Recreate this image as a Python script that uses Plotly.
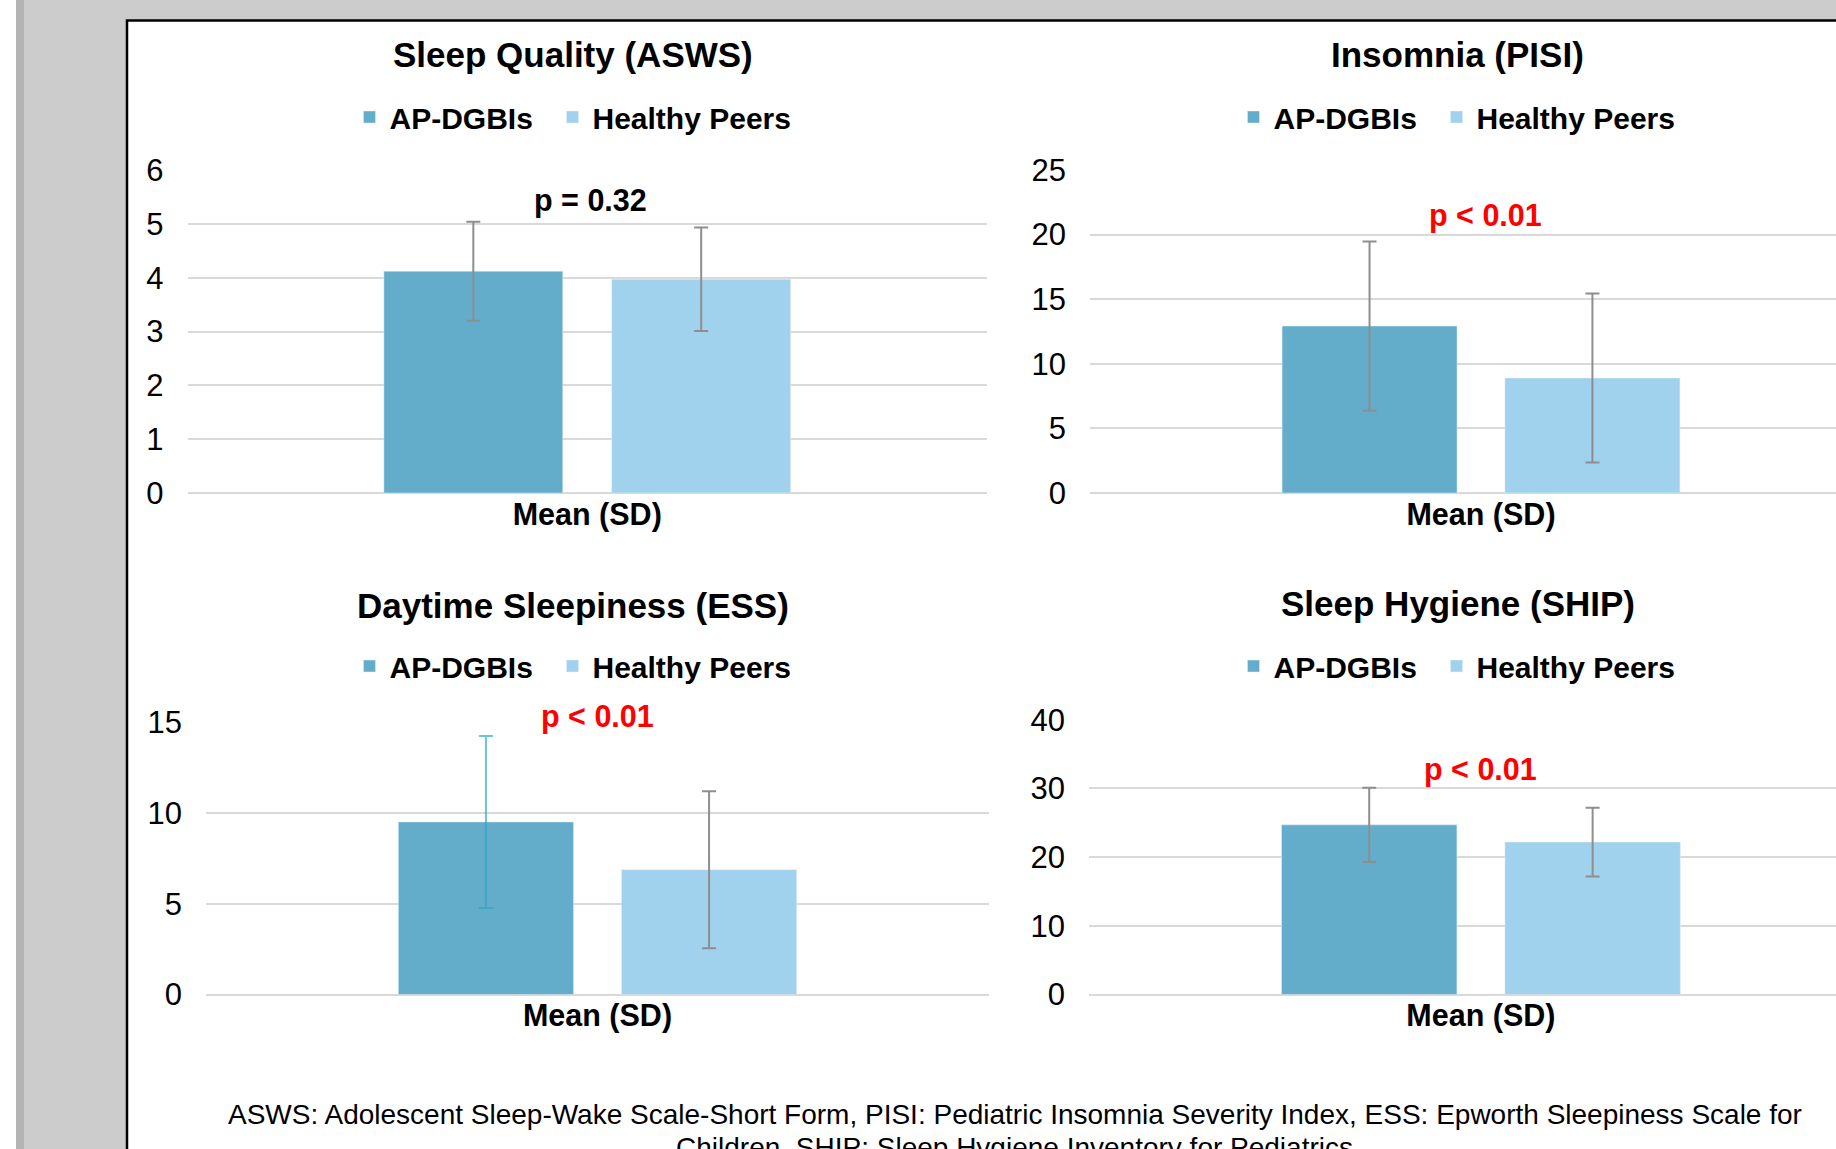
import plotly.graph_objects as go

# ---------------- data ----------------
categories = ["Mean (SD)"]
groups = ["AP-DGBIs", "Healthy Peers"]
panel_titles = ["Sleep Quality (ASWS)", "Insomnia (PISI)",
                "Daytime Sleepiness (ESS)", "Sleep Hygiene (SHIP)"]
ap_means = [4.12, 12.92, 9.5, 24.7]
ap_sd = [0.92, 6.55, 4.73, 5.4]
hp_means = [3.97, 8.9, 6.87, 22.2]
hp_sd = [0.96, 6.54, 4.32, 5.0]
p_labels = ["p = 0.32", "p < 0.01", "p < 0.01", "p < 0.01"]
p_colors = ["#000000", "#ff0000", "#ff0000", "#ff0000"]
p_yvals = [5.43, 21.5, 15.3, 32.8]
y_max = [6, 25, 15, 40]
y_dtick = [1, 5, 5, 10]
footnote_1 = ("ASWS: Adolescent Sleep-Wake Scale-Short Form, PISI: Pediatric Insomnia "
              "Severity Index, ESS: Epworth Sleepiness Scale for")
footnote_2 = "Children, SHIP: Sleep Hygiene Inventory for Pediatrics"

# ---------------- layout constants ----------------
W, H = 1836, 1149
FONT = "Liberation Sans, Arial, sans-serif"
C_AP = "#63acca"
C_HP = "#a0d2ed"
C_ERR = "#8e8e8e"
C_ERR_TEAL = "rgba(39,168,190,0.68)"
GRID = "#d9d9d9"

def px_x(x):
    return x / W

def px_y(y):
    return 1 - y / H

# plot areas in pixels
panels = [
    dict(x0=187.5, x1=987, y0=493, y1=170, xr=[-0.5, 0.5]),
    dict(x0=1090, x1=1836, y0=493, y1=170, xr=[-0.5, 0.454]),
    dict(x0=206, x1=989, y0=994.6, y1=722, xr=[-0.5, 0.5]),
    dict(x0=1089, x1=1836, y0=994.6, y1=719.7, xr=[-0.5, 0.453]),
]
title_pos = [(573, 54), (1457, 54), (573, 605), (1458, 603)]
legend_pos = [(349.5, 117), (1233.5, 117), (349.5, 666), (1233.5, 666)]
p_xshift = [3, 5, 0, 0]
legend_widths = [158, 215]

fig = go.Figure()
layout_axes = {}
annotations = []
legends = {}

for i in range(4):
    xa = "x" if i == 0 else f"x{i+1}"
    ya = "y" if i == 0 else f"y{i+1}"
    lg = "legend" if i == 0 else f"legend{i+1}"
    err_ap_color = C_ERR_TEAL if i == 2 else C_ERR
    fig.add_trace(go.Bar(
        x=categories, y=[ap_means[i]], name=groups[0], marker_color=C_AP,
        error_y=dict(type="data", array=[ap_sd[i]], color=err_ap_color,
                     thickness=2, width=7),
        xaxis=xa, yaxis=ya, legend=lg, legendwidth=legend_widths[0], showlegend=True))
    fig.add_trace(go.Bar(
        x=categories, y=[hp_means[i]], name=groups[1], marker_color=C_HP,
        error_y=dict(type="data", array=[hp_sd[i]], color=C_ERR,
                     thickness=2, width=7),
        xaxis=xa, yaxis=ya, legend=lg, legendwidth=legend_widths[1], showlegend=True))

    p = panels[i]
    xkey = "xaxis" if i == 0 else f"xaxis{i+1}"
    ykey = "yaxis" if i == 0 else f"yaxis{i+1}"
    layout_axes[xkey] = dict(
        domain=[px_x(p["x0"]), px_x(p["x1"])], anchor=ya, type="category",
        range=p["xr"], showgrid=False, zeroline=False, showline=False,
        ticks="", tickfont=dict(family=FONT, size=30.5, color="#000", weight="bold"),
        ticklabelstandoff=0, automargin=False, fixedrange=True)
    layout_axes[ykey] = dict(
        domain=[px_y(p["y0"]), px_y(p["y1"])], anchor=xa,
        range=[0, y_max[i]], dtick=y_dtick[i], tick0=0,
        showgrid=True, gridcolor=GRID, gridwidth=2,
        zeroline=True, zerolinecolor=GRID, zerolinewidth=2,
        showline=False, ticks="", ticklabelstandoff=23, automargin=False,
        tickfont=dict(family=FONT, size=31, color="#000"), fixedrange=True)

    lx, ly = legend_pos[i]
    legends[lg] = dict(
        x=px_x(lx), y=px_y(ly), xanchor="left", yanchor="middle",
        orientation="h", bgcolor="rgba(0,0,0,0)",
        font=dict(family=FONT, size=30, color="#000", weight="bold"),
        itemclick=False, itemdoubleclick=False)

    tx, ty = title_pos[i]
    annotations.append(dict(
        x=px_x(tx), y=px_y(ty), xref="paper", yref="paper", showarrow=False,
        text=f"<b>{panel_titles[i]}</b>", xanchor="center", yanchor="middle",
        font=dict(family=FONT, size=35, color="#000")))
    # p-value label: keep anchor inside the axis range, shift by pixels if above
    px_per_unit = (p["y0"] - p["y1"]) / y_max[i]
    y_anchor = min(p_yvals[i], y_max[i])
    annotations.append(dict(
        x=categories[0], y=y_anchor, xref=xa, yref=ya, showarrow=False,
        yshift=(p_yvals[i] - y_anchor) * px_per_unit, xshift=p_xshift[i],
        text=f"<b>{p_labels[i]}</b>", xanchor="center", yanchor="middle",
        font=dict(family=FONT, size=30.5, color=p_colors[i])))

annotations.append(dict(
    x=px_x(1015), y=px_y(1114.5), xref="paper", yref="paper", showarrow=False,
    text=footnote_1, xanchor="center", yanchor="middle",
    font=dict(family=FONT, size=28, color="#000")))
annotations.append(dict(
    x=px_x(1015), y=px_y(1147), xref="paper", yref="paper", showarrow=False,
    text=footnote_2, xanchor="center", yanchor="middle",
    font=dict(family=FONT, size=28, color="#000")))

shapes = [
    dict(type="rect", xref="paper", yref="paper", x0=0, x1=px_x(16), y0=-0.01, y1=1.01,
         fillcolor="#ffffff", line=dict(width=0), layer="below"),
    dict(type="rect", xref="paper", yref="paper", x0=px_x(16), x1=px_x(24), y0=-0.01, y1=1.01,
         fillcolor="#b4b4b4", line=dict(width=0), layer="below"),
    dict(type="rect", xref="paper", yref="paper", x0=px_x(127), x1=1.01,
         y0=-0.01, y1=px_y(20.5),
         fillcolor="#ffffff", line=dict(color="#000000", width=2.5), layer="below"),
]

fig.update_layout(
    width=W, height=H, autosize=False,
    margin=dict(l=0, r=0, t=0, b=0, pad=0, autoexpand=False),
    paper_bgcolor="#cccccc", plot_bgcolor="rgba(0,0,0,0)",
    barmode="group", bargap=0.43, bargroupgap=0.215,
    annotations=annotations, shapes=shapes,
    **layout_axes, **legends,
)

fig.write_html("out.html",
               config={"displayModeBar": False},
               post_script="document.body.style.margin='0px';document.body.style.overflow='hidden';")
